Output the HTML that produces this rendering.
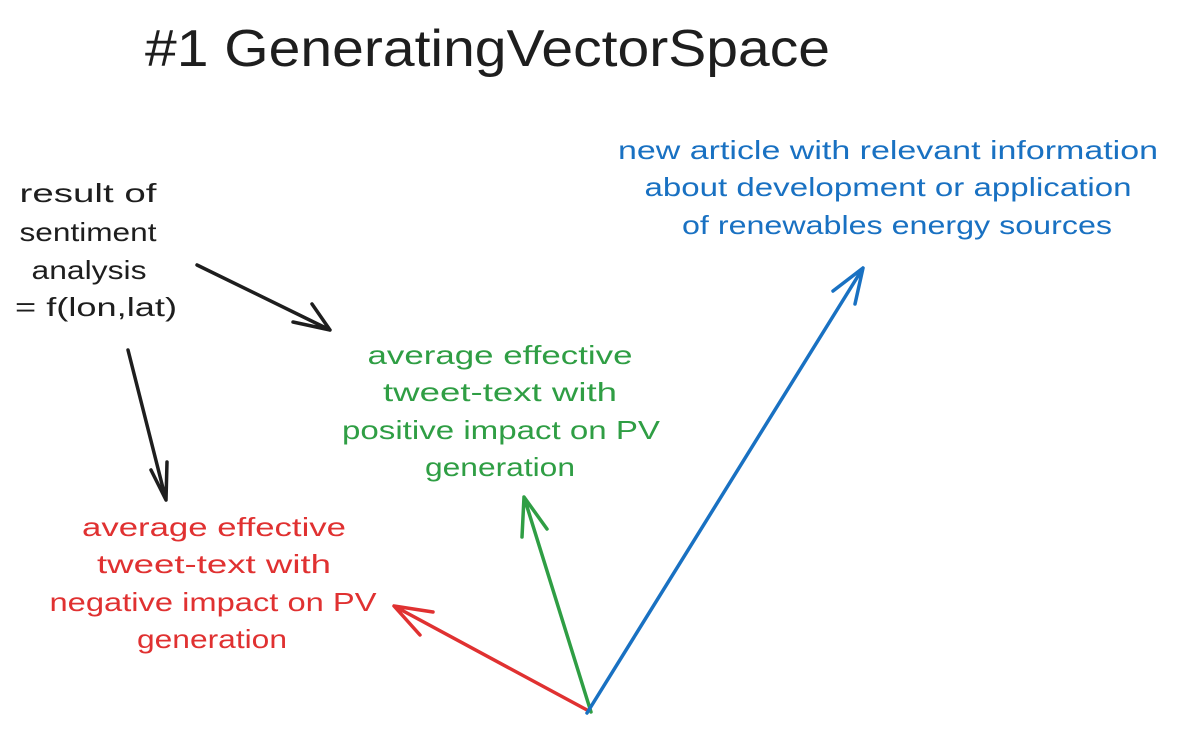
<!DOCTYPE html>
<html><head><meta charset="utf-8"><style>
html,body{margin:0;padding:0;background:#fff;}
svg{display:block;}
text{font-family:"Liberation Sans",sans-serif;}
</style></head><body>
<svg width="1188" height="729" viewBox="0 0 1188 729" xmlns="http://www.w3.org/2000/svg">
<text x="145" y="66" font-size="52" fill="#1e1e1e" textLength="685" lengthAdjust="spacingAndGlyphs">#1 GeneratingVectorSpace</text>
<g font-size="26" fill="#1971c2" text-anchor="middle">
<text x="888" y="159" textLength="540" lengthAdjust="spacingAndGlyphs">new article with relevant information</text>
<text x="888" y="196" textLength="487" lengthAdjust="spacingAndGlyphs">about development or application</text>
<text x="897" y="234" textLength="430" lengthAdjust="spacingAndGlyphs">of renewables energy sources</text>
</g>
<g font-size="26" fill="#1e1e1e" text-anchor="middle">
<text x="88" y="202" textLength="137" lengthAdjust="spacingAndGlyphs">result of</text>
<text x="88" y="241" textLength="137" lengthAdjust="spacingAndGlyphs">sentiment</text>
<text x="89" y="279" textLength="115" lengthAdjust="spacingAndGlyphs">analysis</text>
<text x="96" y="316" textLength="162" lengthAdjust="spacingAndGlyphs">= f(lon,lat)</text>
</g>
<g font-size="26" fill="#2f9e44" text-anchor="middle">
<text x="500" y="364" textLength="265" lengthAdjust="spacingAndGlyphs">average effective</text>
<text x="500" y="401" textLength="234" lengthAdjust="spacingAndGlyphs">tweet-text with</text>
<text x="501" y="439" textLength="318" lengthAdjust="spacingAndGlyphs">positive impact on PV</text>
<text x="500" y="476" textLength="150" lengthAdjust="spacingAndGlyphs">generation</text>
</g>
<g font-size="26" fill="#e03131" text-anchor="middle">
<text x="214" y="536" textLength="264" lengthAdjust="spacingAndGlyphs">average effective</text>
<text x="214" y="573" textLength="234" lengthAdjust="spacingAndGlyphs">tweet-text with</text>
<text x="213" y="611" textLength="327" lengthAdjust="spacingAndGlyphs">negative impact on PV</text>
<text x="212" y="648" textLength="150" lengthAdjust="spacingAndGlyphs">generation</text>
</g>
<g fill="none" stroke-width="3.5" stroke-linecap="round" stroke-linejoin="round">
<path d="M197 265 L330 330 M293 322 L330 330 L312 304" stroke="#1e1e1e"/>
<path d="M128 350 L166 500 M151 470 L166 500 L167 462" stroke="#1e1e1e"/>
<path d="M591 712 L524 497 M522 537 L524 497 L547 529" stroke="#2f9e44"/>
<path d="M587 710 L394 606 M433 612 L394 606 L420 635" stroke="#e03131"/>
<path d="M587 713 L863 268 M833 291 L863 268 L855 304" stroke="#1971c2"/>
</g>
</svg>
</body></html>
